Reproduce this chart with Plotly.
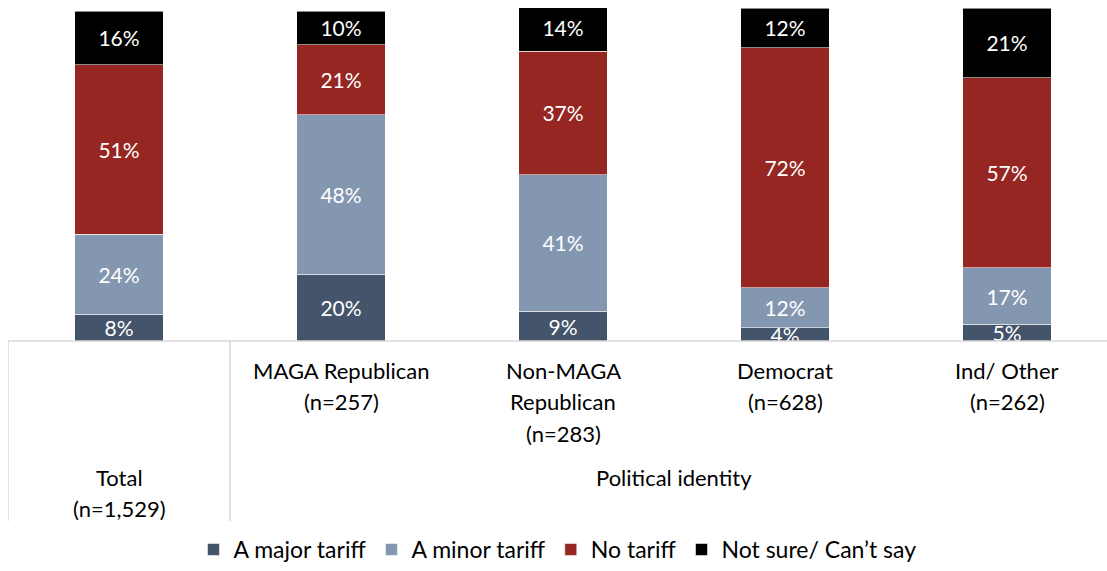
import plotly.graph_objects as go

# Survey groups (label lines as printed under each bar)
group_lines = [
    ["Total", "(n=1,529)"],
    ["MAGA Republican", "(n=257)"],
    ["Non-MAGA", "Republican", "(n=283)"],
    ["Democrat", "(n=628)"],
    ["Ind/ Other", "(n=262)"],
]
group_label_row = ["bottom", "top", "top", "top", "top"]
section_label = "Political identity"

# Percent of respondents per answer
major_tariff = [8, 20, 9, 4, 5]
minor_tariff = [24, 48, 41, 12, 17]
no_tariff = [51, 21, 37, 72, 57]
not_sure = [16, 10, 14, 12, 21]

series = [
    ("A major tariff", major_tariff, "#44546A"),
    ("A minor tariff", minor_tariff, "#8497B0"),
    ("No tariff", no_tariff, "#962622"),
    ("Not sure/ Can\u2019t say", not_sure, "#000000"),
]

FONT = "Lato"
W, H = 1107, 571
M_T, M_L = 8, 8
PLOT_BOTTOM = 341          # pixel row of the category axis
paper_h = H - M_T
n = len(group_lines)
xpos = list(range(n))

def py_to_paper(py):
    return (H - py) / paper_h

fig = go.Figure()
for name, vals, color in series:
    fig.add_trace(go.Bar(
        x=xpos, y=vals, name=name,
        width=0.4,
        marker=dict(color=color, line=dict(color="rgba(255,255,255,0.55)", width=1)),
        text=[f"{v}%" for v in vals],
        textposition="inside",
        insidetextanchor="middle",
        textfont=dict(family=FONT, size=21, color="white"),
        constraintext="none",
        hoverinfo="skip",
    ))

grid = "#D9D9D9"
axis_y = py_to_paper(PLOT_BOTTOM)
# axis-table frame below the bars
fig.add_shape(type="line", xref="paper", yref="paper", x0=0, x1=1, y0=axis_y, y1=axis_y,
              line=dict(color=grid, width=1.5))
for xv in (-0.5, 0.5):
    fig.add_shape(type="line", xref="x", yref="paper", x0=xv, x1=xv,
                  y0=axis_y, y1=py_to_paper(521), line=dict(color=grid, width=1.5))

line_gap = 31.5
for i, lines in enumerate(group_lines):
    start = 370 if group_label_row[i] == "top" else 477
    for j, txt in enumerate(lines):
        fig.add_annotation(x=xpos[i], xref="x", y=py_to_paper(start + j * line_gap), yref="paper",
                           text=txt, showarrow=False, xanchor="center", yanchor="middle",
                           font=dict(family=FONT, size=22, color="#000000"))
fig.add_annotation(x=2.5, xref="x", y=py_to_paper(477), yref="paper", text=section_label,
                   showarrow=False, xanchor="center", yanchor="middle",
                   font=dict(family=FONT, size=22, color="#000000"))

fig.update_layout(
    width=W, height=H,
    margin=dict(l=M_L, r=0, t=M_T, b=0),
    barmode="stack",
    plot_bgcolor="white", paper_bgcolor="white",
    uniformtext=dict(minsize=21, mode="show"),
    xaxis=dict(range=[-0.5, -0.5 + (W - M_L) / 222], showgrid=False, zeroline=False,
               showticklabels=False, showline=False, fixedrange=True),
    yaxis=dict(range=[0, 100], domain=[axis_y, 1], showgrid=False, zeroline=False,
               showticklabels=False, showline=False, fixedrange=True),
    legend=dict(orientation="h", x=0.5, xref="paper", xanchor="center",
                y=0, yanchor="bottom",
                font=dict(family=FONT, size=23, color="#000000"),
                itemwidth=30, traceorder="normal"),
    showlegend=True,
)

fig.write_html("out.html", config={"displayModeBar": False})
